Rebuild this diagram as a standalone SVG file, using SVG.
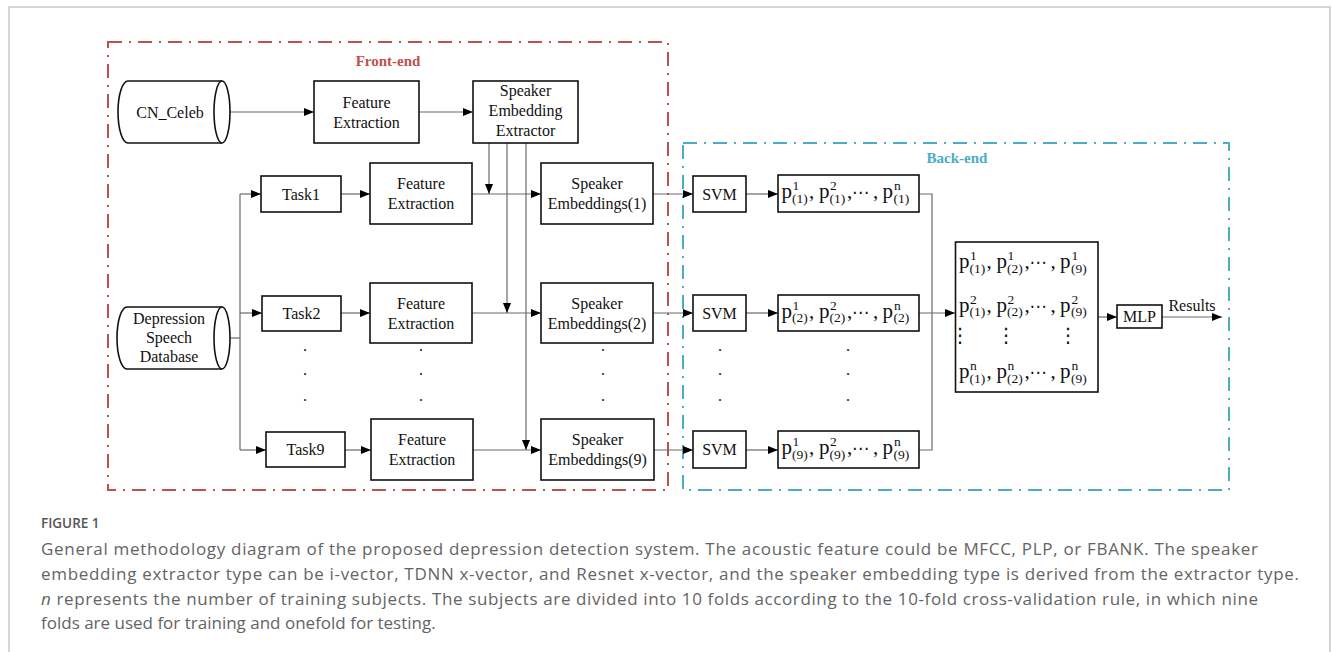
<svg xmlns="http://www.w3.org/2000/svg" width="1333" height="652" viewBox="0 0 1333 652">
<style>
.t{font-family:"Liberation Serif","Times New Roman",serif;font-size:16px;fill:#111;text-anchor:middle}
.box{fill:#fff;stroke:#111;stroke-width:1.6}
.cyl{fill:#fff;stroke:#111;stroke-width:1.6}
.c{fill:none;stroke:#6a6a6a;stroke-width:1.2}
.ca{fill:none;stroke:#6a6a6a;stroke-width:1.2;marker-end:url(#ah)}
.pp{font-family:"Liberation Serif","Times New Roman",serif;font-size:21px;fill:#111}
.ps{font-family:"Liberation Serif","Times New Roman",serif;font-size:13.5px;fill:#111}
.el{font-family:"DejaVu Sans",sans-serif;font-size:17px;fill:#111}
.vd{font-family:"DejaVu Sans",sans-serif;font-size:20px;fill:#111;text-anchor:middle}
.dot{font-family:"Liberation Serif",serif;font-size:16px;fill:#111;text-anchor:middle}
.cap{font-family:"Open Sans","Noto Sans",sans-serif;font-size:17px;fill:#646464}
</style>
<defs>
<marker id="ah" markerWidth="10" markerHeight="8" refX="10" refY="4" orient="auto" markerUnits="userSpaceOnUse"><path d="M0,0 L10,4 L0,8 z" fill="#000"/></marker>
<g id="pcore">
<text class="pp" x="3.5" y="0">p</text>
<text class="pp" x="31" y="0">,</text>
<text class="pp" x="41" y="0">p</text>
<text class="pp" x="69" y="0">,</text>
<text class="el" x="74" y="0">⋯</text>
<text class="pp" x="95" y="0">,</text>
<text class="pp" x="104.5" y="0">p</text>
</g>
</defs>

<path d="M9,652 V7 H1330 V652" fill="none" stroke="#c8c8c8" stroke-width="1.5"/>

<g id="front-end">
<rect x="108" y="42" width="560" height="448" fill="none" stroke="#c0504d" stroke-width="2" stroke-dasharray="14 7 2 7"/>
<text x="388" y="66" style="font-family:'Liberation Serif',serif;font-size:15px;font-weight:bold;fill:#c0504d;text-anchor:middle">Front-end</text>
</g>
<g id="back-end">
<rect x="683" y="143" width="546" height="347" fill="none" stroke="#4bacc6" stroke-width="2" stroke-dasharray="14 7 2 7"/>
<text x="957" y="163" style="font-family:'Liberation Serif',serif;font-size:15px;font-weight:bold;fill:#4bacc6;text-anchor:middle">Back-end</text>
</g>

<g id="connectors">
<path class="ca" d="M230,112 H314"/>
<path class="ca" d="M419,112 H473"/>
<path class="c" d="M230,338 H240"/>
<path class="c" d="M240,194 V450"/>
<path class="ca" d="M240,194 H261"/>
<path class="ca" d="M240,313 H262"/>
<path class="ca" d="M240,450 H266"/>
<path class="ca" d="M341,194 H370"/>
<path class="ca" d="M341,313 H370"/>
<path class="ca" d="M345,450 H371"/>
<path class="ca" d="M472,194 H541"/>
<path class="ca" d="M472,313 H541"/>
<path class="ca" d="M473,450 H541"/>
<path class="ca" d="M489,143 V194"/>
<path class="ca" d="M507,143 V313"/>
<path class="ca" d="M526,143 V450"/>
<path class="ca" d="M653,194 H693"/>
<path class="ca" d="M653,313 H693"/>
<path class="ca" d="M654,450 H693"/>
<path class="ca" d="M746,194 H778"/>
<path class="ca" d="M746,313 H778"/>
<path class="ca" d="M746,450 H778"/>
<path class="c" d="M919,194 H932 V450 H919"/>
<path class="ca" d="M919,313 H955"/>
<path class="ca" d="M1098,317 H1117"/>
<path class="ca" d="M1162,317 H1222"/>
</g>

<g id="cn-celeb">
<path class="cyl" d="M128,81 H222 M128,143 H222 M128,81 A10,31 0 0 0 128,143"/>
<ellipse class="cyl" cx="222" cy="112" rx="8" ry="31"/>
<text class="t" x="170" y="117.5">CN_Celeb</text>
</g>
<g id="fe-top">
<rect class="box" x="314" y="81" width="105" height="62"/>
<text class="t" x="366.5" y="108">Feature</text>
<text class="t" x="366.5" y="128">Extraction</text>
</g>
<g id="extractor">
<rect class="box" x="473" y="81" width="105" height="62"/>
<text class="t" x="525.5" y="96">Speaker</text>
<text class="t" x="525.5" y="116">Embedding</text>
<text class="t" x="525.5" y="136">Extractor</text>
</g>
<g id="depression-db">
<path class="cyl" d="M127,307 H222 M127,369 H222 M127,307 A10,31 0 0 0 127,369"/>
<ellipse class="cyl" cx="222" cy="338" rx="8" ry="31"/>
<text class="t" x="169" y="324">Depression</text>
<text class="t" x="169" y="343">Speech</text>
<text class="t" x="169" y="362">Database</text>
</g>

<g id="task1"><rect class="box" x="261" y="176" width="80" height="36"/><text class="t" x="301" y="199.5">Task1</text></g>
<g id="task2"><rect class="box" x="262" y="296" width="79" height="35"/><text class="t" x="301.5" y="318.5">Task2</text></g>
<g id="task9"><rect class="box" x="266" y="432" width="79" height="35"/><text class="t" x="305.5" y="455">Task9</text></g>

<g id="fe1"><rect class="box" x="370" y="163" width="102" height="61"/><text class="t" x="421" y="189">Feature</text><text class="t" x="421" y="209">Extraction</text></g>
<g id="fe2"><rect class="box" x="370" y="283" width="102" height="60"/><text class="t" x="421" y="308.5">Feature</text><text class="t" x="421" y="328.5">Extraction</text></g>
<g id="fe9"><rect class="box" x="371" y="419" width="102" height="61"/><text class="t" x="422" y="445">Feature</text><text class="t" x="422" y="465">Extraction</text></g>

<g id="se1"><rect class="box" x="541" y="163" width="112" height="61"/><text class="t" x="597" y="189">Speaker</text><text class="t" x="597" y="209">Embeddings(1)</text></g>
<g id="se2"><rect class="box" x="541" y="283" width="112" height="60"/><text class="t" x="597" y="308.5">Speaker</text><text class="t" x="597" y="328.5">Embeddings(2)</text></g>
<g id="se9"><rect class="box" x="541" y="419" width="113" height="61"/><text class="t" x="597.5" y="445">Speaker</text><text class="t" x="597.5" y="465">Embeddings(9)</text></g>

<g id="front-dots">
<text class="dot" x="305" y="351">.</text><text class="dot" x="305" y="375">.</text><text class="dot" x="305" y="401">.</text>
<text class="dot" x="421" y="351">.</text><text class="dot" x="421" y="375">.</text><text class="dot" x="421" y="401">.</text>
<text class="dot" x="603" y="351">.</text><text class="dot" x="603" y="375">.</text><text class="dot" x="603" y="401">.</text>
</g>

<g id="svm1"><rect class="box" x="693" y="176" width="53" height="36"/><text class="t" x="719.5" y="199.5">SVM</text></g>
<g id="svm2"><rect class="box" x="693" y="295" width="53" height="36"/><text class="t" x="719.5" y="318.5">SVM</text></g>
<g id="svm9"><rect class="box" x="693" y="431" width="53" height="37"/><text class="t" x="719.5" y="455">SVM</text></g>

<g id="back-dots">
<text class="dot" x="720" y="351">.</text><text class="dot" x="720" y="375">.</text><text class="dot" x="720" y="401">.</text>
<text class="dot" x="848" y="351">.</text><text class="dot" x="848" y="375">.</text><text class="dot" x="848" y="401">.</text>
</g>

<g id="prob1">
<rect class="box" x="778" y="175" width="141" height="37"/>
<g transform="translate(778,198)">
<use href="#pcore"/>
<text class="ps" x="14.5" y="-8">1</text><text class="ps" x="14" y="4.5">(1)</text>
<text class="ps" x="52" y="-8">2</text><text class="ps" x="51.5" y="4.5">(1)</text>
<text class="ps" x="116" y="-8">n</text><text class="ps" x="115.5" y="4.5">(1)</text>
</g>
</g>
<g id="prob2">
<rect class="box" x="778" y="295" width="141" height="36"/>
<g transform="translate(778,317.5)">
<use href="#pcore"/>
<text class="ps" x="14.5" y="-8">1</text><text class="ps" x="14" y="4.5">(2)</text>
<text class="ps" x="52" y="-8">2</text><text class="ps" x="51.5" y="4.5">(2)</text>
<text class="ps" x="116" y="-8">n</text><text class="ps" x="115.5" y="4.5">(2)</text>
</g>
</g>
<g id="prob9">
<rect class="box" x="778" y="431" width="141" height="37"/>
<g transform="translate(778,454)">
<use href="#pcore"/>
<text class="ps" x="14.5" y="-8">1</text><text class="ps" x="14" y="4.5">(9)</text>
<text class="ps" x="52" y="-8">2</text><text class="ps" x="51.5" y="4.5">(9)</text>
<text class="ps" x="116" y="-8">n</text><text class="ps" x="115.5" y="4.5">(9)</text>
</g>
</g>

<g id="matrix">
<rect class="box" x="955.5" y="242" width="142.5" height="150"/>
<g transform="translate(955.5,268)">
<use href="#pcore"/>
<text class="ps" x="14.5" y="-8">1</text><text class="ps" x="14" y="4.5">(1)</text>
<text class="ps" x="52" y="-8">1</text><text class="ps" x="51.5" y="4.5">(2)</text>
<text class="ps" x="116" y="-8">1</text><text class="ps" x="115.5" y="4.5">(9)</text>
</g>
<g transform="translate(955.5,311.5)">
<use href="#pcore"/>
<text class="ps" x="14.5" y="-8">2</text><text class="ps" x="14" y="4.5">(1)</text>
<text class="ps" x="52" y="-8">2</text><text class="ps" x="51.5" y="4.5">(2)</text>
<text class="ps" x="116" y="-8">2</text><text class="ps" x="115.5" y="4.5">(9)</text>
</g>
<text class="vd" x="960" y="342">⋮</text>
<text class="vd" x="1006" y="342">⋮</text>
<text class="vd" x="1068" y="342">⋮</text>
<g transform="translate(955.5,378)">
<use href="#pcore"/>
<text class="ps" x="14.5" y="-8">n</text><text class="ps" x="14" y="4.5">(1)</text>
<text class="ps" x="52" y="-8">n</text><text class="ps" x="51.5" y="4.5">(2)</text>
<text class="ps" x="116" y="-8">n</text><text class="ps" x="115.5" y="4.5">(9)</text>
</g>
</g>

<g id="mlp"><rect class="box" x="1117" y="305" width="45" height="23"/><text class="t" x="1139.5" y="322">MLP</text></g>
<text class="t" x="1192" y="311">Results</text>

<g id="caption">
<text x="41" y="528" style="font-family:'Open Sans','Noto Sans',sans-serif;font-size:13.5px;font-weight:600;fill:#555">FIGURE 1</text>
<text class="cap" x="41" y="555" textLength="1217" lengthAdjust="spacing">General methodology diagram of the proposed depression detection system. The acoustic feature could be MFCC, PLP, or FBANK. The speaker</text>
<text class="cap" x="41" y="580" textLength="1258" lengthAdjust="spacing">embedding extractor type can be i-vector, TDNN x-vector, and Resnet x-vector, and the speaker embedding type is derived from the extractor type.</text>
<text class="cap" x="41" y="605" textLength="1217" lengthAdjust="spacing"><tspan font-style="italic">n</tspan> represents the number of training subjects. The subjects are divided into 10 folds according to the 10-fold cross-validation rule, in which nine</text>
<text class="cap" x="41" y="629">folds are used for training and onefold for testing.</text>
</g>
</svg>
